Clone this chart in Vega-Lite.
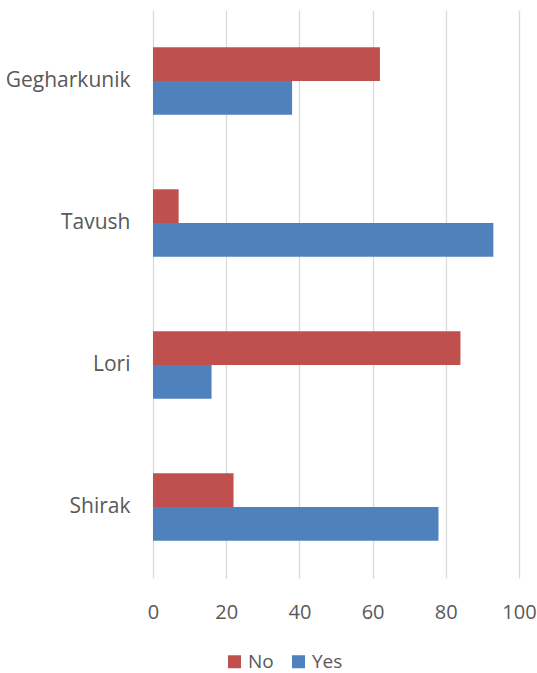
{
  "$schema": "https://vega.github.io/schema/vega-lite/v6.json",
  "autosize": "none",
  "padding": {"left": 153, "top": 10, "right": 18, "bottom": 95},
  "width": 366,
  "height": 568,
  "background": "white",
  "data": {
    "values": [
      {"region": "Gegharkunik", "answer": "No", "value": 62},
      {"region": "Gegharkunik", "answer": "Yes", "value": 38},
      {"region": "Tavush", "answer": "No", "value": 7},
      {"region": "Tavush", "answer": "Yes", "value": 93},
      {"region": "Lori", "answer": "No", "value": 84},
      {"region": "Lori", "answer": "Yes", "value": 16},
      {"region": "Shirak", "answer": "No", "value": 22},
      {"region": "Shirak", "answer": "Yes", "value": 78}
    ]
  },
  "mark": {"type": "bar"},
  "encoding": {
    "y": {
      "field": "region",
      "type": "nominal",
      "sort": ["Gegharkunik", "Tavush", "Lori", "Shirak"],
      "scale": {"paddingInner": 0.525, "paddingOuter": 0.2625},
      "axis": {
        "title": null,
        "domain": false,
        "ticks": false,
        "labelPadding": 23,
        "labelFont": "Open Sans",
        "labelFontSize": 21,
        "labelColor": "#595959"
      }
    },
    "yOffset": {
      "field": "answer",
      "type": "nominal",
      "sort": ["No", "Yes"],
      "scale": {"paddingInner": 0, "paddingOuter": 0}
    },
    "x": {
      "field": "value",
      "type": "quantitative",
      "scale": {"domain": [0, 100], "nice": false},
      "axis": {
        "title": null,
        "values": [0, 20, 40, 60, 80, 100],
        "domain": false,
        "ticks": false,
        "grid": true,
        "gridColor": "#D9D9D9",
        "gridWidth": 1.3,
        "labelPadding": 24,
        "labelFont": "Open Sans",
        "labelFontSize": 20,
        "labelColor": "#595959",
        "labelFlush": false
      }
    },
    "color": {
      "field": "answer",
      "type": "nominal",
      "scale": {"domain": ["No", "Yes"], "range": ["#C0504D", "#4F81BD"]},
      "legend": {
        "title": null,
        "orient": "none",
        "direction": "horizontal",
        "legendX": 72,
        "legendY": 642,
        "symbolType": "square",
        "symbolSize": 169,
        "symbolStrokeWidth": 0,
        "labelFont": "Open Sans",
        "labelFontSize": 19,
        "labelColor": "#595959",
        "labelOffset": 4,
        "columnPadding": 15
      }
    }
  },
  "config": {"view": {"stroke": null}}
}
